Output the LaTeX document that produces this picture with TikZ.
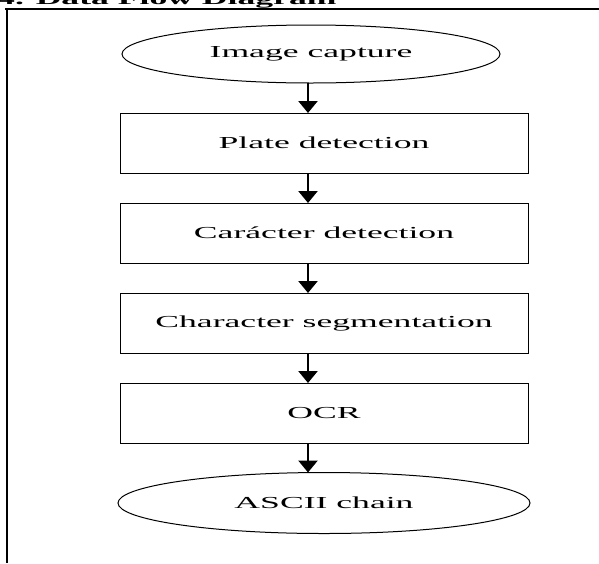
\documentclass[tikz,border=0pt]{standalone}
\usepackage{fontspec}
\setmainfont{Liberation Serif}[FakeStretch=2.12]
\usetikzlibrary{shapes.geometric,arrows.meta}

\begin{document}
\begin{tikzpicture}[x=1pt,y=1pt,
  texte/.style={font=\fontsize{16.8}{20}\selectfont},
  bloc/.style={texte, draw, line width=1pt, minimum width=408pt, minimum height=60pt, inner sep=0pt, outer sep=0pt},
  bulle/.style={texte, ellipse, draw, line width=1pt, inner sep=0pt, outer sep=0pt},
  fleche/.style={line width=2.5pt, -{Triangle[width=19pt,length=12pt]}}]

\useasboundingbox (0,0) rectangle (599,-563);

% Titre (coupé en haut)
\node[texte, font=\fontsize{16.8}{20}\selectfont\bfseries, anchor=base west, inner sep=0pt] (titre) at (-3,-4) {4. Data Flow Diagram};

% Cadre
\draw[line width=1.5pt] (5,-9) -- (599,-9);
\draw[line width=2pt] (7,-9) -- (7,-563);

% Etapes
\node[bulle, minimum width=378pt, minimum height=58pt] (capture) at (311,-54) {Image capture};
\node[bloc] (plaque) at (324,-143) {Plate detection};
\node[bloc] (detect) at (324,-233) {Carácter detection};
\node[bloc] (segment) at (324,-323) {Character segmentation};
\node[bloc] (ocr) at (324,-413) {OCR};
\node[bulle, minimum width=412pt, minimum height=61pt] (ascii) at (324,-503) {ASCII chain};

% Fleches
\coordinate (axe) at (308,0);
\draw[fleche] (capture.south -| axe) -- (plaque.north -| axe);
\draw[fleche] (plaque.south -| axe) -- (detect.north -| axe);
\draw[fleche] (detect.south -| axe) -- (segment.north -| axe);
\draw[fleche] (segment.south -| axe) -- (ocr.north -| axe);
\draw[fleche] (ocr.south -| axe) -- (ascii.north -| axe);

\end{tikzpicture}
\end{document}
